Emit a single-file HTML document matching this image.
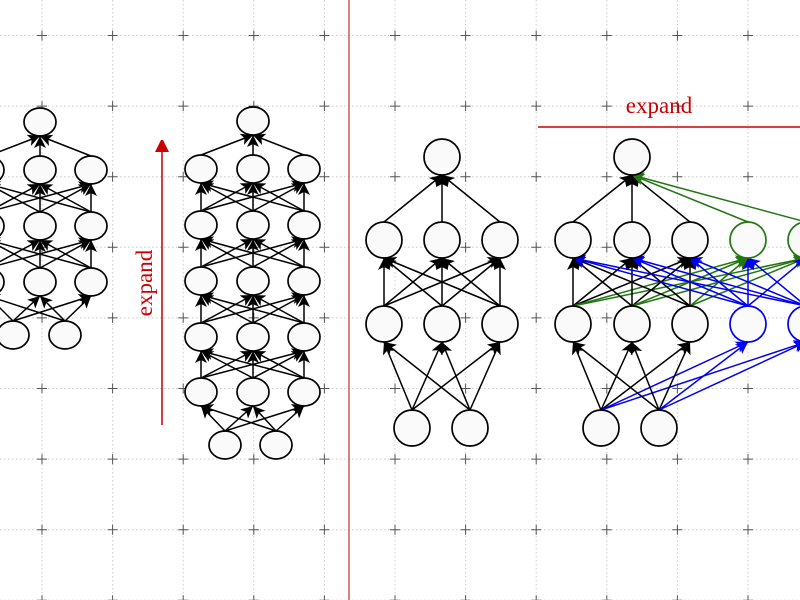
<!DOCTYPE html>
<html><head><meta charset="utf-8"><style>
html,body{margin:0;padding:0;background:#fff;}
svg{display:block;}
</style></head><body>
<svg id="s" width="800" height="600" xmlns="http://www.w3.org/2000/svg">
<defs>
<marker id="mk" markerUnits="userSpaceOnUse" markerWidth="14" markerHeight="12" refX="12" refY="6" orient="auto"><path d="M0,0 L12,6 L0,12 L3,6 z" fill="#000"/></marker>
<marker id="mb" markerUnits="userSpaceOnUse" markerWidth="14" markerHeight="12" refX="12" refY="6" orient="auto"><path d="M0,0 L12,6 L0,12 L3,6 z" fill="#0000ee"/></marker>
<marker id="mg" markerUnits="userSpaceOnUse" markerWidth="14" markerHeight="12" refX="12" refY="6" orient="auto"><path d="M0,0 L12,6 L0,12 L3,6 z" fill="#227711"/></marker>
<marker id="mr" markerUnits="userSpaceOnUse" markerWidth="12" markerHeight="14" refX="2" refY="7" orient="auto"><path d="M0,0 L14,7 L0,14 z" fill="#cc0000"/></marker>
</defs>
<g id="grid"></g>
<g id="edges"></g>
<g id="nodes"></g>
<line x1="349" y1="0" x2="349" y2="600" stroke="#cc0000" stroke-width="1"/>
<line x1="162" y1="425" x2="162" y2="150" stroke="#cc0000" stroke-width="1.5" marker-end="url(#mr)"/>
<text x="152" y="283" transform="rotate(-90 152 283)" text-anchor="middle" font-family="Liberation Serif, serif" font-size="23" fill="#cc0000">expand</text>
<line x1="538" y1="127" x2="800" y2="127" stroke="#cc0000" stroke-width="1.5"/>
<text x="659" y="113" text-anchor="middle" font-family="Liberation Serif, serif" font-size="23" fill="#cc0000">expand</text>
</svg>
<script>
const NS="http://www.w3.org/2000/svg";
const G=document.getElementById('grid'),E=document.getElementById('edges'),N=document.getElementById('nodes');
function el(p,t,a){const e=document.createElementNS(NS,t);for(const k in a)e.setAttribute(k,a[k]);p.appendChild(e);return e;}
const xs=[],ys=[];for(let i=0;i<12;i++)xs.push(42+i*70.6);for(let j=0;j<9;j++)ys.push(35.5+j*70.6);
xs.forEach(x=>el(G,'line',{x1:x,y1:0,x2:x,y2:600,stroke:'#ccc','stroke-dasharray':'1.5,2.5','stroke-width':1}));
ys.forEach(y=>el(G,'line',{x1:0,y1:y,x2:800,y2:y,stroke:'#ccc','stroke-dasharray':'1.5,2.5','stroke-width':1}));
xs.forEach(x=>ys.forEach(y=>{el(G,'path',{d:`M${x-5},${y}H${x+5}M${x},${y-5}V${y+5}`,stroke:'#555','stroke-width':1});}));
function node(n){el(N,'ellipse',{cx:n.x,cy:n.y,rx:n.rx,ry:n.ry,fill:'#fafafa',stroke:n.c||'#000','stroke-width':1.7});}
function edge(a,b,c){
 const col=c==='b'?'#0000ee':c==='g'?'#227711':'#000';
 const m=c==='b'?'mb':c==='g'?'mg':'mk';
 el(E,'line',{x1:a.x,y1:a.y-a.ry,x2:b.x,y2:b.y+b.ry,stroke:col,'stroke-width':1.5,'marker-end':`url(#${m})`});
}
function net(layers,rx,ry){
 const L=layers.map(l=>l.xs.map((x,i)=>({x:x,y:l.y,rx:rx,ry:ry})));
 for(let i=0;i<L.length-1;i++)for(const a of L[i])for(const b of L[i+1])edge(a,b,null);
 L.flat().forEach(node);
}
net([{y:335,xs:[13,65]},{y:282,xs:[-12,40,91]},{y:226,xs:[-12,40,91]},{y:170,xs:[-12,40,91]},{y:122,xs:[40]}],16,14);
net([{y:445,xs:[225,276]},{y:392,xs:[201,253,304]},{y:337,xs:[201,253,304]},{y:281,xs:[201,253,304]},{y:225,xs:[201,253,304]},{y:169,xs:[201,253,304]},{y:121,xs:[253]}],16,14);
net([{y:428,xs:[412,470]},{y:324,xs:[384,442,500]},{y:240,xs:[384,442,500]},{y:157,xs:[442]}],18,18);
(function(){
 const r=18;
 const inp=[601,659].map(x=>({x,y:428,rx:r,ry:r}));
 const l1=[573,632,690].map(x=>({x,y:324,rx:r,ry:r,n:0})).concat([748,806].map(x=>({x,y:324,rx:r,ry:r,c:'#0000ee',n:1})));
 const l2=[573,632,690].map(x=>({x,y:240,rx:r,ry:r,n:0})).concat([748,806].map(x=>({x,y:240,rx:r,ry:r,c:'#227711',n:1})));
 const top={x:632,y:157,rx:r,ry:r};
 for(const a of inp)for(const b of l1)edge(a,b,b.n?'b':null);
 for(const a of l1)for(const b of l2)edge(a,b,a.n?'b':(b.n?'g':null));
 for(const a of l2)edge(a,top,a.n?'g':null);
 inp.concat(l1,l2,[top]).forEach(node);
})();
</script>
</body></html>
